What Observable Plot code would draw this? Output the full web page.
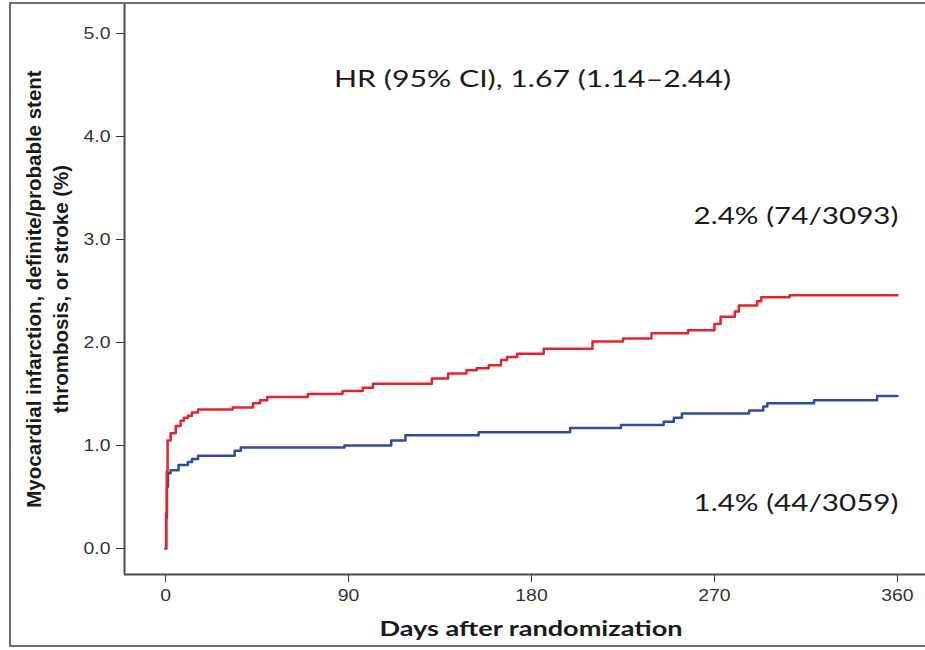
<!DOCTYPE html>
<html><head><meta charset="utf-8">
<script src="https://cdn.jsdelivr.net/npm/d3@7"></script>
<script src="https://cdn.jsdelivr.net/npm/@observablehq/plot@0.6"></script>
<style>
html,body{margin:0;padding:0;background:#fff;overflow:hidden;}
#wrap{position:relative;width:925px;height:650px;overflow:hidden;}
#wrap svg{position:absolute;left:0;top:0;}
#border{position:absolute;left:9px;top:2px;width:960px;height:641px;border:2px solid #6e6e6e;pointer-events:none;}
</style></head><body><div id="wrap"></div>
<script>
// Kaplan-Meier style cumulative incidence (%), step-after
const redDays = [0,0.3,0.6,1.0,2.5,5,7.4,9,11,13,16,33,43,46.5,50,70,87,97,102,131,139,148,153,159,165,168,173,186,210,225,239,257,270,273,280,282,291,293,307,360];
const redPct  = [0,0.35,0.75,1.05,1.12,1.19,1.24,1.27,1.29,1.32,1.35,1.37,1.41,1.44,1.47,1.50,1.53,1.56,1.60,1.65,1.70,1.73,1.75,1.78,1.83,1.86,1.89,1.94,2.01,2.04,2.09,2.12,2.18,2.25,2.30,2.36,2.40,2.44,2.46,2.46];
const blueDays = [0,0.3,0.7,1.2,2.5,6.4,11,13,16,34,37,88,111,118,154,199,224,245,250,254,287,294,296,319,350,360];
const bluePct  = [0,0.3,0.6,0.73,0.76,0.81,0.84,0.87,0.90,0.95,0.98,1.00,1.05,1.10,1.13,1.17,1.20,1.23,1.27,1.31,1.34,1.38,1.41,1.44,1.48,1.48];

const xTicks = [0, 90, 180, 270, 360];
const yTicks = [0, 1, 2, 3, 4, 5];
const xDomain = [-20.2, 373.8];
const yDomain = [-0.252, 5.291];

const annText = ["HR (95% CI), 1.67 (1.14\u20132.44)", "2.4% (74/3093)", "1.4% (44/3059)"];
const annDay  = [180.5, 360.5, 360.5];
const annPct  = [4.55, 3.22, 0.44];
const annAnchor = ["middle", "end", "end"];

const xLabel = "Days after randomization";
const yLabel1 = "Myocardial infarction, definite/probable stent";
const yLabel2 = "thrombosis, or stroke (%)";

const red = redDays.map((d, i) => ({day: d, pct: redPct[i]}));
const blue = blueDays.map((d, i) => ({day: d, pct: bluePct[i]}));
const ann = annText.map((t, i) => ({text: t, day: annDay[i], pct: annPct[i], anchor: annAnchor[i]}));

const chart = Plot.plot({
  width: 925, height: 650,
  marginLeft: 124, marginRight: 0, marginTop: 3, marginBottom: 76,
  style: {fontFamily: "'Liberation Sans', Arial, sans-serif", fontSize: "17px", color: "#333", background: "#fff"},
  x: {domain: xDomain, ticks: xTicks, tickSize: 8, tickPadding: 6, label: null, tickFormat: d => String(d)},
  y: {domain: yDomain, ticks: yTicks, tickSize: 8, tickPadding: 6, label: null, tickFormat: d => d.toFixed(1)},
  marks: [
    Plot.ruleX([xDomain[0]], {stroke: "#4a4a4a", strokeWidth: 2}),
    Plot.ruleY([yDomain[0]], {stroke: "#4a4a4a", strokeWidth: 2}),
    Plot.line(blue, {x: "day", y: "pct", curve: "step-after", stroke: "#2f4c9e", strokeWidth: 2.5}),
    Plot.line(red, {x: "day", y: "pct", curve: "step-after", stroke: "#e6222d", strokeWidth: 2.5}),
    Plot.text(ann.filter(a => a.anchor === "middle"), {x: "day", y: "pct", text: "text", textAnchor: "middle", fontFamily: "Lato, 'Open Sans', sans-serif", fontSize: 23, fill: "#1a1a1a"}),
    Plot.text(ann.filter(a => a.anchor === "end"), {x: "day", y: "pct", text: "text", textAnchor: "end", fontFamily: "Lato, 'Open Sans', sans-serif", fontSize: 23, fill: "#1a1a1a"}),
    Plot.text([xLabel], {frameAnchor: "bottom", textAnchor: "middle", dx: 6, dy: 61, fontFamily: "Lato, sans-serif", fontWeight: "bold", fontSize: 20, fill: "#1a1a1a"}),
    Plot.text([yLabel1], {frameAnchor: "left", textAnchor: "middle", lineAnchor: "middle", rotate: -90, dx: -90, fontFamily: "'Liberation Sans', Arial, sans-serif", fontWeight: "bold", fontSize: 20.5, fill: "#1a1a1a"}),
    Plot.text([yLabel2], {frameAnchor: "left", textAnchor: "middle", lineAnchor: "middle", rotate: -90, dx: -63, fontFamily: "'Liberation Sans', Arial, sans-serif", fontWeight: "bold", fontSize: 20.5, fill: "#1a1a1a"})
  ]
});

const wrap = document.getElementById("wrap");
wrap.appendChild(chart);
const border = document.createElement("div");
border.id = "border";
wrap.appendChild(border);

// the reference picture is horizontally stretched: widen horizontal text to match
const targetWidth = {};
targetWidth[annText[0]] = 397;
targetWidth[annText[1]] = 205;
targetWidth[annText[2]] = 205;
targetWidth[xLabel] = 303;
chart.querySelectorAll("text").forEach(t => {
  const s = t.textContent;
  let w = null;
  if (targetWidth[s] != null) w = targetWidth[s];
  else if (/^[\d.]+$/.test(s)) w = t.getComputedTextLength() * 1.14;
  if (w != null) {
    t.setAttribute("textLength", w);
    t.setAttribute("lengthAdjust", "spacingAndGlyphs");
  }
});
</script>
</body></html>
